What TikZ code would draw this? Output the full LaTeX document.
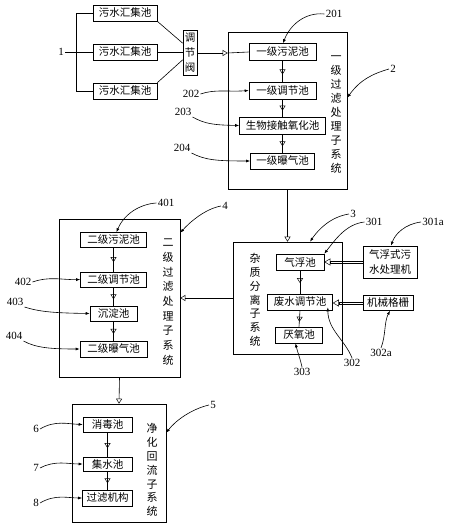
\documentclass[tikz,border=0pt]{standalone}
\usepackage{fontspec}
\setmainfont{Liberation Serif}
\newfontfamily\cjk{Noto Sans CJK SC}
\usetikzlibrary{arrows.meta,decorations.markings,calc}
\begin{document}
\begin{tikzpicture}[x=1pt,y=-1pt,line width=0.6pt,
  pool/.style={draw, inner sep=0pt, font=\cjk\fontsize{10.5}{10.5}\selectfont},
  sysbox/.style={draw, inner sep=0pt},
  vtxt/.style={align=center, inner sep=0pt},
  num/.style={inner sep=1pt, font=\fontsize{11}{11}\selectfont},
  otip/.tip={Triangle[open,length=5pt,width=6pt,line width=0.5pt]},
  flow/.style={-otip},
  midarrow/.style={postaction={decorate}, decoration={markings, mark=at position #1 with {\arrow{otip}}}},
  lead/.style={-{Latex[length=4pt,width=3pt]}},
  dtip/.style={-{Triangle[open,length=6pt,width=7pt,line width=0.5pt]}}
]
\useasboundingbox (0,0) rectangle (450,526);

% ---- collection pools and valve
\node[pool, minimum width=64, minimum height=16] (c1) at (125,13) {污水汇集池};
\node[pool, minimum width=64, minimum height=16] (c2) at (125,52) {污水汇集池};
\node[pool, minimum width=64, minimum height=16] (c3) at (125,91) {污水汇集池};
\node[pool, minimum width=14, minimum height=45] (valve) at (190,53) {};
\node[vtxt, font=\cjk\fontsize{10.5}{15}\selectfont] (valvet) at (valve.center) {调\\节\\阀};
\node[num] (l1) at (61,52) {1};

% ---- subsystem 2
\node[sysbox, minimum width=119, minimum height=157] (s2) at (287.5,110.5) {};
\node[vtxt, font=\cjk\fontsize{11}{14}\selectfont] (s2t) at (336,115) {一\\级\\过\\滤\\处\\理\\子\\系\\统};
\node[pool, minimum width=67, minimum height=17] (p201) at (282.5,52) {一级污泥池};
\node[pool, minimum width=67, minimum height=17] (p202) at (282.5,90.5) {一级调节池};
\node[pool, minimum width=86, minimum height=17] (p203) at (282.5,125.5) {生物接触氧化池};
\node[pool, minimum width=64, minimum height=16] (p204) at (282.5,161) {一级曝气池};
\node[num] (l201) at (334,14) {201};
\node[num] (l2) at (393,69) {2};
\node[num] (l202) at (191,94) {202};
\node[num] (l203) at (183,112) {203};
\node[num] (l204) at (182,148) {204};

% ---- subsystem 3
\node[sysbox, minimum width=109, minimum height=112] (s3) at (287.5,298) {};
\node[vtxt, font=\cjk\fontsize{11}{13.8}\selectfont] (s3t) at (255,300) {杂\\质\\分\\离\\子\\系\\统};
\node[pool, minimum width=48, minimum height=16] (p301) at (300,262) {气浮池};
\node[pool, minimum width=65, minimum height=16] (p302) at (300,302) {废水调节池};
\node[pool, minimum width=47, minimum height=16] (p303) at (299,335) {厌氧池};
\node[pool, minimum width=54, minimum height=32, align=center, font=\cjk\fontsize{10.5}{15}\selectfont] (m301a) at (390,262) {气浮式污\\水处理机};
\node[pool, minimum width=50, minimum height=15] (m302a) at (388,303) {机械格栅};
\node[num] (l3) at (353,214) {3};
\node[num] (l301) at (374,222) {301};
\node[num] (l301a) at (433,222) {301a};
\node[num] (l302a) at (381,353) {302a};
\node[num] (l302) at (352,363) {302};
\node[num] (l303) at (302,372) {303};

% ---- subsystem 4
\node[sysbox, minimum width=121, minimum height=158] (s4) at (119.5,298) {};
\node[vtxt, font=\cjk\fontsize{11}{14.7}\selectfont] (s4t) at (168,302) {二\\级\\过\\滤\\处\\理\\子\\系\\统};
\node[pool, minimum width=66, minimum height=15] (p401) at (113.5,240) {二级污泥池};
\node[pool, minimum width=66, minimum height=15] (p402) at (113.5,279.5) {二级调节池};
\node[pool, minimum width=47, minimum height=15] (p403) at (113.5,313.5) {沉淀池};
\node[pool, minimum width=67, minimum height=16] (p404) at (113.5,349) {二级曝气池};
\node[num] (l401) at (166,203) {401};
\node[num] (l4) at (225,206) {4};
\node[num] (l402) at (23,282) {402};
\node[num] (l403) at (15,302) {403};
\node[num] (l404) at (14,336) {404};

% ---- subsystem 5
\node[sysbox, minimum width=94, minimum height=118] (s5) at (119,463) {};
\node[vtxt, font=\cjk\fontsize{11}{13.8}\selectfont] (s5t) at (152,470) {净\\化\\回\\流\\子\\系\\统};
\node[pool, minimum width=49, minimum height=15] (p6) at (107.5,424.5) {消毒池};
\node[pool, minimum width=49, minimum height=14] (p7) at (107.5,464) {集水池};
\node[pool, minimum width=50, minimum height=16] (p8) at (107.5,498) {过滤机构};
\node[num] (l5) at (213,405) {5};
\node[num] (l6) at (36,429) {6};
\node[num] (l7) at (36,468) {7};
\node[num] (l8) at (36,503) {8};

% ---- collection connectors
\draw (l1.east) -- (c2.west);
\draw (c1.west) -- ++(-16,0) |- (c3.west);
\draw (c1.south east) -- ([yshift=-13pt]valve.north west);
\draw (c2.east) -- (valve.west |- c2.east);
\draw (c3.north east) -- ([yshift=16pt]valve.south west);
\coordinate (e2) at (valve.east -| s2.west);
\draw[flow] (valve.east) -- (e2);
\draw (e2) -- (p201.west);

% ---- internal flows
\draw[midarrow=0.65] (p201.south) -- (p202.north);
\draw[midarrow=0.65] (p202.south) -- (p203.north);
\draw[midarrow=0.65] (p203.south) -- (p204.north);
\draw[midarrow=0.55] (p301.south) -- (p302.north);
\draw[midarrow=0.7] (p302.south) -- (p303.north);
\draw[midarrow=0.6] (p401.south) -- (p402.north);
\draw[midarrow=0.65] (p402.south) -- (p403.north);
\draw[midarrow=0.65] (p403.south) -- (p404.north);
\draw[midarrow=0.65] (p6.south) -- (p7.north);
\draw[midarrow=0.65] (p7.south) -- (p8.north);

% ---- between subsystems
\draw[flow] (s2.south) -- (s3.north);
\draw[flow] (s3.west) -- (s3.west -| s4.east);
\draw[flow] (s4.south) -- (s5.north);

% ---- double connectors
\coordinate (d1) at ([xshift=6pt]p301.east);
\draw[line width=0.5pt] ([yshift=1.2pt]m301a.west) -- ([yshift=1.2pt]d1);
\draw[line width=0.5pt] ([yshift=-1.2pt]m301a.west) -- ([yshift=-1.2pt]d1);
\draw[dtip] (d1) -- (p301.east);
\coordinate (d2) at ([xshift=6pt]p302.east |- m302a.west);
\draw[line width=0.5pt] ([yshift=1.2pt]m302a.west) -- ([yshift=1.2pt]d2);
\draw[line width=0.5pt] ([yshift=-1.2pt]m302a.west) -- ([yshift=-1.2pt]d2);
\draw[dtip] (d2) -- (p302.east |- m302a.west);

% ---- leaders
\draw[lead] (l201.west) .. controls (305,12) and (290,25) .. ([xshift=0.5pt]p201.north);
\draw[lead] (l2.west) .. controls (372,74) and (360,80) .. ([yshift=-66pt]s2.north east);
\draw[lead] (l202.east) .. controls (215,89) and (228,92) .. (p202.west);
\draw[lead] (l203.south east) .. controls (205,124) and (214,125) .. (p203.west);
\draw[lead] (l204.south east) .. controls (205,160) and (216,161) .. (p204.west);

\draw[lead] (l3.west) .. controls (330,217) and (318,230) .. ([xshift=22.5pt]s3.north);
\draw[lead] (l301.west) .. controls (346,224) and (335,240) .. (p301.north east);
\draw[lead] (l301a.west) .. controls (405,224) and (395,234) .. ([xshift=1pt]m301a.north);
\draw[lead] (l302a.north) .. controls (386,335) and (384,322) .. ([xshift=2pt]m302a.south);
\draw[lead] (l302.north) .. controls (345,340) and (328,330) .. ([xshift=-5pt,yshift=3pt]p302.south east);
\draw[lead] (l303.north) .. controls (300,358) and (297,350) .. ([xshift=-3.5pt]p303.south);

\draw[lead] (l401.west) .. controls (140,204) and (124,214) .. ([xshift=3pt]p401.north);
\draw[lead] (l4.west) .. controls (205,209) and (190,222) .. ([yshift=-14pt]s4.north east);
\draw[lead] (l402.east) .. controls (50,276) and (62,280) .. (p402.west);
\draw[lead] (l403.south east) .. controls (40,312) and (56,313) .. (p403.west);
\draw[lead] (l404.south east) .. controls (36,348) and (52,349) .. (p404.west);

\draw[lead] (l5.west) .. controls (192,409) and (176,420) .. ([yshift=-29pt]s5.north east);
\draw[lead] (l6.east) .. controls (55,420) and (68,424) .. (p6.west);
\draw[lead] (l7.east) .. controls (55,460) and (68,464) .. (p7.west);
\draw[lead] (l8.east) .. controls (55,494) and (68,498) .. (p8.west);
\end{tikzpicture}
\end{document}
